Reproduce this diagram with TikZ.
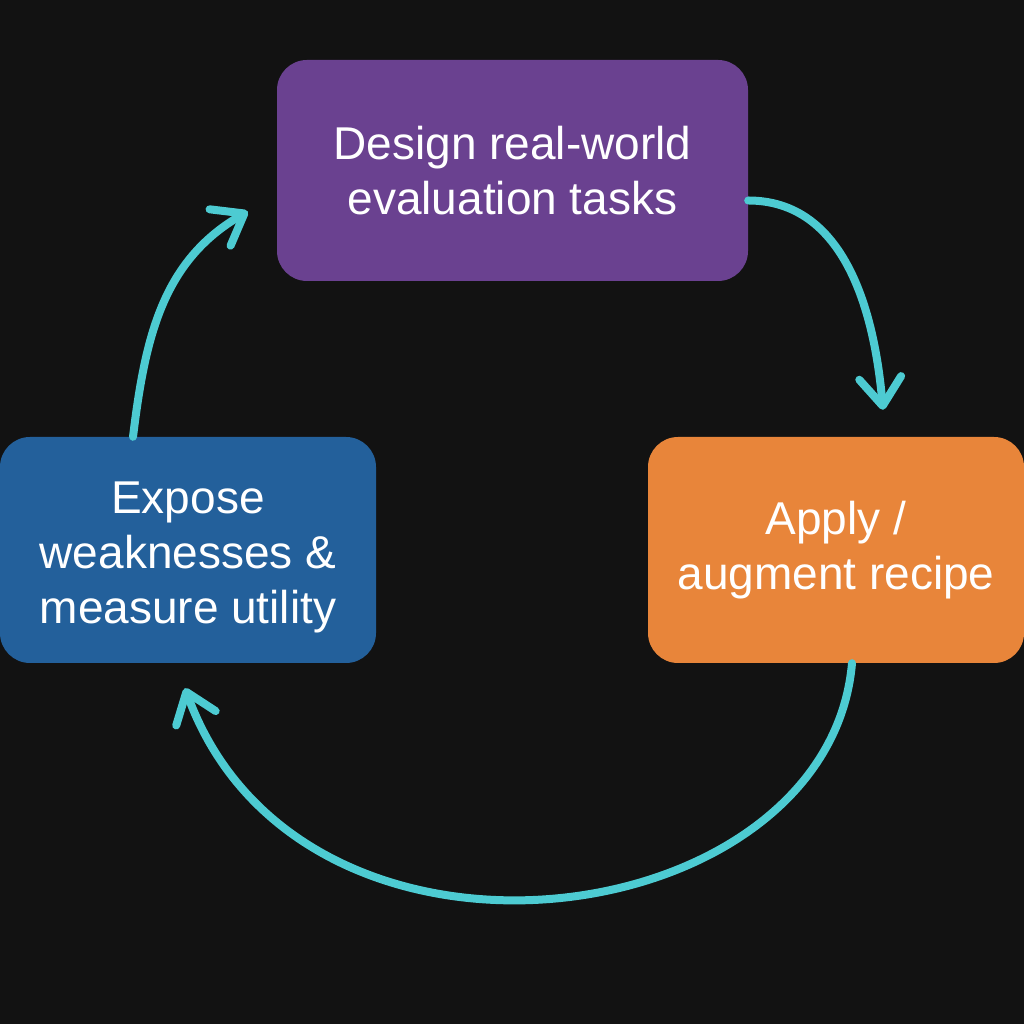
\documentclass[tikz,border=0pt]{standalone}
\usepackage{fontspec}
\setmainfont{Liberation Sans}
\usetikzlibrary{arrows.meta, positioning}
\definecolor{bg}{HTML}{121212}
\definecolor{designpurple}{HTML}{6A4190}
\definecolor{applyorange}{HTML}{E8853A}
\definecolor{exposeblue}{HTML}{23609B}
\definecolor{flowcyan}{HTML}{4DCBD2}

\begin{document}
\begin{tikzpicture}[
    x=1pt, y=1pt,
    box/.style={rectangle, rounded corners=30pt, text=white, inner sep=0pt, align=center, font=\fontsize{46}{55}\selectfont},
    flow/.style={draw=flowcyan, line width=8pt, line cap=round, -{Straight Barb[length=28pt, width=42pt, round]}}
]

\fill[bg] (0,0) rectangle (1024,1024);
\useasboundingbox (0,0) rectangle (1024,1024);

\node[box, fill=designpurple, minimum width=471pt, minimum height=221pt] (design) at (512.5,853.5) {Design real-world\\evaluation tasks};
\node[box, fill=applyorange, minimum width=376pt, minimum height=226pt] (apply) at (836,474) {Apply /\\augment recipe};
\node[box, fill=exposeblue, minimum width=376pt, minimum height=226pt, text height=157pt, text depth=10pt] (expose) at (188,474) {Expose\\weaknesses \&\\measure utility};

% the loop
\draw[flow] ([yshift=-30pt]design.east) to[out=0, in=95] ([xshift=47pt, yshift=27pt]apply.north);
\draw[flow] ([xshift=16pt]apply.south) to[out=-95, in=-70, out looseness=1.05, in looseness=1.3] ([xshift=-3pt, yshift=-25pt]expose.south);
\draw[flow] ([xshift=-55pt]expose.north) to[out=83, in=-150] ([xshift=-29pt, yshift=-41pt]design.west);

\end{tikzpicture}
\end{document}
